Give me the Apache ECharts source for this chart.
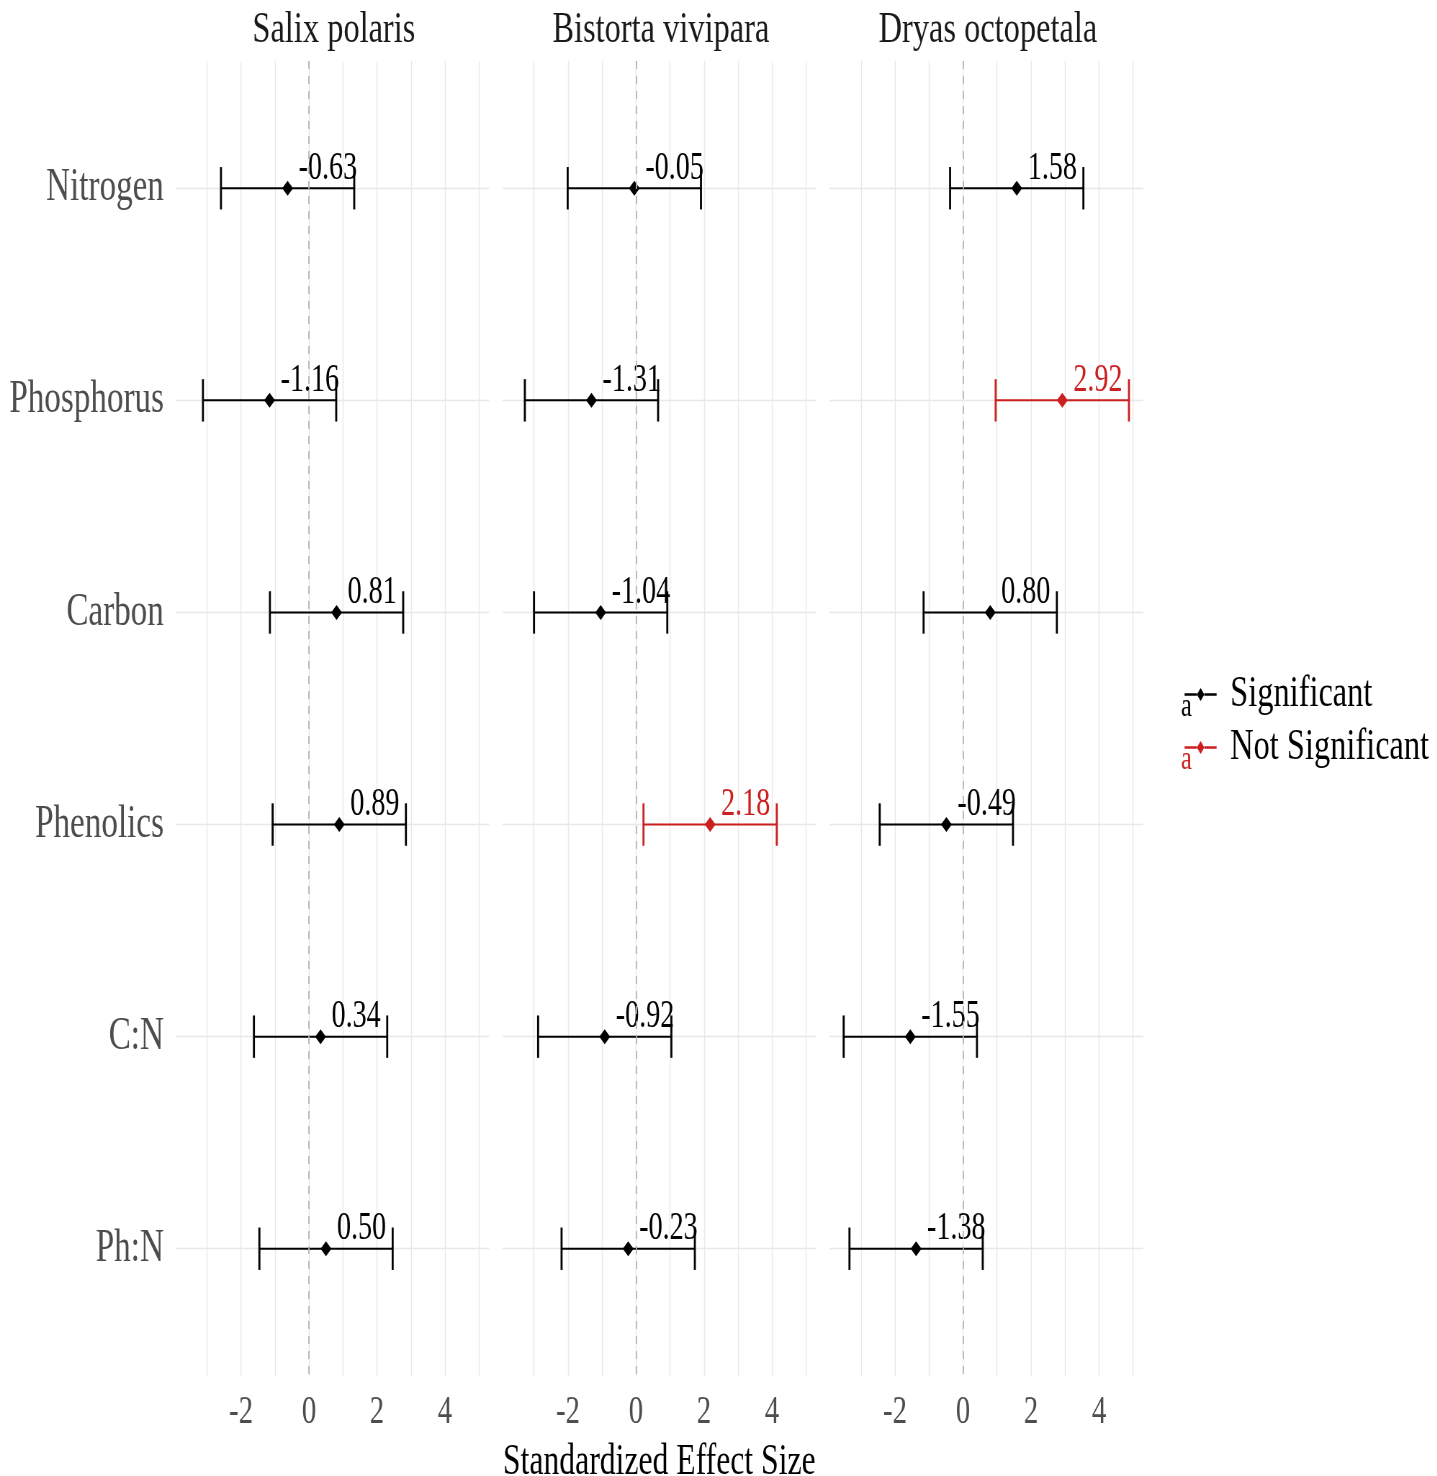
<!DOCTYPE html>
<html>
<head>
<meta charset="utf-8">
<script src="https://cdn.jsdelivr.net/npm/echarts@6/dist/echarts.min.js"></script>
<style>
  html, body { margin: 0; padding: 0; background: #fff; overflow: hidden; }
  #chart { height: 1476px; transform-origin: 0 0; }
</style>
</head>
<body>
<div id="chart"></div>
<script>
  // data
  const species = ['Salix polaris', 'Bistorta vivipara', 'Dryas octopetala'];
  const traits = ['Nitrogen', 'Phosphorus', 'Carbon', 'Phenolics', 'C:N', 'Ph:N'];
  const estimates = [
    [-0.63, -1.16, 0.81, 0.89, 0.34, 0.50],
    [-0.05, -1.31, -1.04, 2.18, -0.92, -0.23],
    [1.58, 2.92, 0.80, -0.49, -1.55, -1.38]
  ];
  const lowerCI = [
    [-2.59, -3.12, -1.15, -1.07, -1.62, -1.46],
    [-2.01, -3.27, -3.00, 0.22, -2.88, -2.19],
    [-0.38, 0.96, -1.16, -2.45, -3.51, -3.34]
  ];
  const upperCI = [
    [1.33, 0.80, 2.77, 2.85, 2.30, 2.46],
    [1.91, 0.65, 0.92, 4.14, 1.04, 1.73],
    [3.54, 4.88, 2.76, 1.47, 0.41, 0.58]
  ];
  const significant = [
    [1, 1, 1, 1, 1, 1],
    [1, 1, 1, 0, 1, 1],
    [1, 0, 1, 1, 1, 1]
  ];
  const xTickLabels = [-2, 0, 2, 4];
  const xGridValues = [-3, -2, -1, 0, 1, 2, 3, 4, 5];
  const groups = ['Significant', 'Not Significant'];
  const groupColors = ['#000000', '#cc1f1f'];

  // the reference is horizontally squeezed, so draw wide and squeeze with css
  const K = 0.72;
  const px = v => v / K;
  const dom = document.getElementById('chart');
  dom.style.width = (1437 / K) + 'px';
  dom.style.transform = 'scaleX(' + K + ')';

  const FONT = '"Liberation Serif", "Times New Roman", serif';

  // ggplot style 5% expansion of the shared x range
  const lo = Math.min(...lowerCI.flat());
  const hi = Math.max(...upperCI.flat());
  const pad = (hi - lo) * 0.05;
  const xMin = lo - pad, xMax = hi + pad;

  const unitPx = 34;               // picture px per unit
  const zeroX = [309, 636, 963];   // picture x of 0 in each panel
  const gridTop = 61, gridHeight = 1315;

  const grids = [], xAxes = [], yAxes = [], series = [], titles = [];

  species.forEach((sp, p) => {
    const left = zeroX[p] + xMin * unitPx;
    const width = (xMax - xMin) * unitPx;
    grids.push({
      left: px(left), width: px(width), top: gridTop, height: gridHeight,
      outerBoundsMode: 'none'
    });
    titles.push({
      text: sp, left: px(left + width / 2 - 2), top: 3, textAlign: 'center',
      textStyle: { fontFamily: FONT, fontSize: 45, fontWeight: 'normal', color: '#1a1a1a' }
    });
    xAxes.push({
      type: 'value', gridIndex: p, min: xMin, max: xMax,
      axisLine: { show: false },
      axisTick: { show: false, customValues: xGridValues },
      axisLabel: {
        customValues: xTickLabels, margin: 16,
        fontFamily: FONT, fontSize: 40, color: '#4d4d4d'
      },
      splitLine: { show: true, lineStyle: { color: '#e8e8e8', width: 1.4 } },
      name: p === 1 ? 'Standardized Effect Size' : '',
      nameLocation: 'middle', nameGap: 64,
      nameTextStyle: { fontFamily: FONT, fontSize: 44, color: '#000' }
    });
    yAxes.push({
      type: 'value', gridIndex: p, inverse: true,
      min: 0.4, max: traits.length + 0.6,
      axisLine: { show: false },
      axisTick: { show: false, customValues: traits.map((t, i) => i + 1) },
      axisLabel: {
        show: p === 0, customValues: traits.map((t, i) => i + 1), margin: 16,
        formatter: v => traits[v - 1],
        fontFamily: FONT, fontSize: 46, color: '#4d4d4d'
      },
      splitLine: { show: true, lineStyle: { color: '#e8e8e8', width: 1.4 } }
    });

    groups.forEach((g, gi) => {
      const data = [];
      traits.forEach((t, i) => {
        if ((significant[p][i] === 1) === (gi === 0)) {
          data.push([lowerCI[p][i], upperCI[p][i], estimates[p][i], i + 1]);
        }
      });
      const s = {
        type: 'custom', name: g, xAxisIndex: p, yAxisIndex: p,
        itemStyle: { color: groupColors[gi] },
        encode: { x: [0, 1, 2], y: 3 },
        data: data,
        renderItem: function (params, api) {
          const y = api.value(3);
          const a = api.coord([api.value(0), y]);
          const b = api.coord([api.value(1), y]);
          const pt = api.coord([api.value(2), y]);
          const top = api.coord([api.value(0), y - 0.1])[1];
          const bot = api.coord([api.value(0), y + 0.1])[1];
          const color = api.visual('color');
          const cap = { stroke: color, lineWidth: 2.8 };
          return {
            type: 'group',
            children: [
              { type: 'line', shape: { x1: a[0], y1: pt[1], x2: b[0], y2: pt[1] }, style: { stroke: color, lineWidth: 2 } },
              { type: 'line', shape: { x1: a[0], y1: top, x2: a[0], y2: bot }, style: cap },
              { type: 'line', shape: { x1: b[0], y1: top, x2: b[0], y2: bot }, style: cap },
              {
                type: 'polygon',
                shape: { points: [[pt[0], pt[1] - 7.5], [pt[0] + 7.5, pt[1]], [pt[0], pt[1] + 7.5], [pt[0] - 7.5, pt[1]]] },
                style: { fill: color }
              },
              {
                type: 'text', x: pt[0] + px(11), y: pt[1] - 20,
                style: {
                  text: api.value(2).toFixed(2), fill: color,
                  font: '39px ' + FONT, align: 'left', verticalAlign: 'middle'
                }
              }
            ]
          };
        }
      };
      if (gi === 0) {
        s.markLine = {
          silent: true, symbol: 'none', label: { show: false },
          lineStyle: { color: '#b5b5b5', type: [8, 7], width: 1.8 },
          data: [{ xAxis: 0 }]
        };
      }
      series.push(s);
    });
  });

  const chart = echarts.init(dom, null, { renderer: 'canvas' });
  chart.setOption({
    backgroundColor: '#fff',
    animation: false,
    title: titles,
    grid: grids,
    xAxis: xAxes,
    yAxis: yAxes,
    legend: {
      orient: 'vertical', left: px(1181), top: 667,
      data: groups, selectedMode: false,
      icon: 'path://M0,6h13v2h-13z M17,2l4,5l-4,5l-4,-5z M21,6h13v2h-13z',
      itemWidth: px(32), itemHeight: 14, itemGap: 8,
      textStyle: { fontFamily: FONT, fontSize: 45, color: '#000', padding: [0, 0, 0, px(10)] }
    },
    graphic: groups.map((g, gi) => ({
      type: 'text', left: px(1181), top: 690 + gi * 53,
      style: { text: 'a', font: '34px ' + FONT, fill: groupColors[gi] }
    })),
    series: series
  });
</script>
</body>
</html>
